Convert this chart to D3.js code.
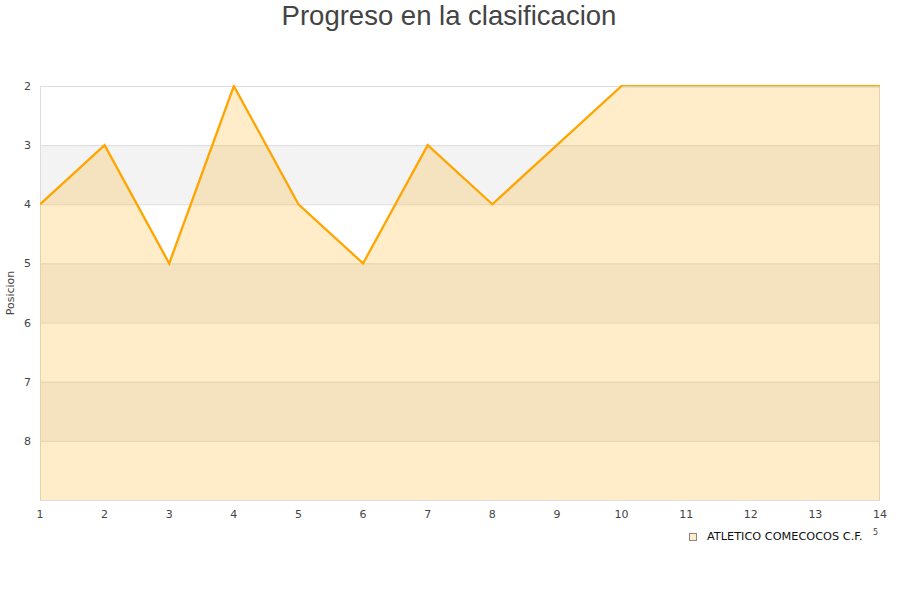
<!DOCTYPE html>
<html><head><meta charset="utf-8">
<script src="https://cdn.jsdelivr.net/npm/d3@7"></script>
<style>body{margin:0;background:#fff}svg{display:block}</style>
</head><body>
<svg id="c" width="900" height="600"></svg>
<script>
const jornadas = [1,2,3,4,5,6,7,8,9,10,11,12,13,14];
const posiciones = [4,3,5,2,4,5,3,4,3,2,2,2,2,2];
const yTicks = [2,3,4,5,6,7,8];
const bands = [[3,4],[5,6],[7,8]];
const title = "Progreso en la clasificacion";
const yTitle = "Posicion";
const serieName = "ATLETICO COMECOCOS C.F.";

const svg = d3.select("#c");
const L=40, R=880, T=86, B=500;
const x = d3.scaleLinear().domain([1,14]).range([L,R]);
const y = d3.scaleLinear().domain([2,9]).range([T,B]);

svg.append("defs").append("clipPath").attr("id","clip")
  .append("rect").attr("x",L).attr("y",T-1).attr("width",R-L).attr("height",B-T+1);

// bands
svg.append("g").selectAll("rect").data(bands).join("rect")
  .attr("x",L).attr("width",R-L)
  .attr("y",d=>y(d[0])).attr("height",d=>y(d[1])-y(d[0]))
  .attr("fill","#f3f3f3");

// grid
svg.append("g").selectAll("line").data(yTicks).join("line")
  .attr("x1",L).attr("x2",R).attr("y1",d=>y(d)+0.5).attr("y2",d=>y(d)+0.5)
  .attr("stroke","#dddddd").attr("stroke-width",1);

// border
svg.append("rect").attr("x",L+0.5).attr("y",T+0.5).attr("width",R-L-1).attr("height",B-T)
  .attr("fill","none").attr("stroke","#dddddd");

// area + line
const g = svg.append("g").attr("clip-path","url(#clip)");
g.append("path").datum(jornadas.map((j,i)=>[j,posiciones[i]]))
  .attr("d", d3.area().x(d=>x(d[0])).y0(B).y1(d=>y(d[1])+1))
  .attr("fill","rgba(255,165,0,0.21)");
g.append("path").datum(jornadas.map((j,i)=>[j,posiciones[i]]))
  .attr("d", d3.line().x(d=>x(d[0])).y(d=>y(d[1])))
  .attr("fill","none").attr("stroke","#ffa500").attr("stroke-width",2.3).attr("stroke-linejoin","miter");
// border line visible under the flat top segment
svg.append("line").attr("x1",x(10)+1).attr("x2",R).attr("y1",T+0.5).attr("y2",T+0.5)
  .attr("stroke","#d0d0d0").attr("stroke-width",1);

// y tick labels
svg.append("g").selectAll("text").data(yTicks).join("text")
  .attr("x",31).attr("y",d=>y(d)+4).attr("text-anchor","end")
  .attr("font-family","DejaVu Sans").attr("font-size",11).attr("fill","#444")
  .text(d=>d);

// x tick labels
svg.append("g").selectAll("text").data(jornadas).join("text")
  .attr("x",d=>x(d)).attr("y",518).attr("text-anchor","middle")
  .attr("font-family","DejaVu Sans").attr("font-size",11).attr("fill","#444")
  .text(d=>d);

// title
svg.append("text").attr("x",449).attr("y",25).attr("text-anchor","middle")
  .attr("font-family","Liberation Sans, Arial").attr("font-size",27.5).attr("fill","#444")
  .text(title);

// y title
svg.append("text").attr("transform","translate(14,293) rotate(-90)").attr("text-anchor","middle")
  .attr("font-family","DejaVu Sans").attr("font-size",11).attr("fill","#444")
  .text(yTitle);

// legend
svg.append("rect").attr("x",689.5).attr("y",533.5).attr("width",7).attr("height",7)
  .attr("fill","#feecc9").attr("stroke","#888");
svg.append("text").attr("x",707).attr("y",540)
  .attr("font-family","DejaVu Sans").attr("font-size",11.3).attr("fill","#111")
  .text(serieName);
svg.append("text").attr("x",873).attr("y",535)
  .attr("font-family","DejaVu Sans").attr("font-size",8).attr("fill","#444")
  .text("5");
</script>
</body></html>
